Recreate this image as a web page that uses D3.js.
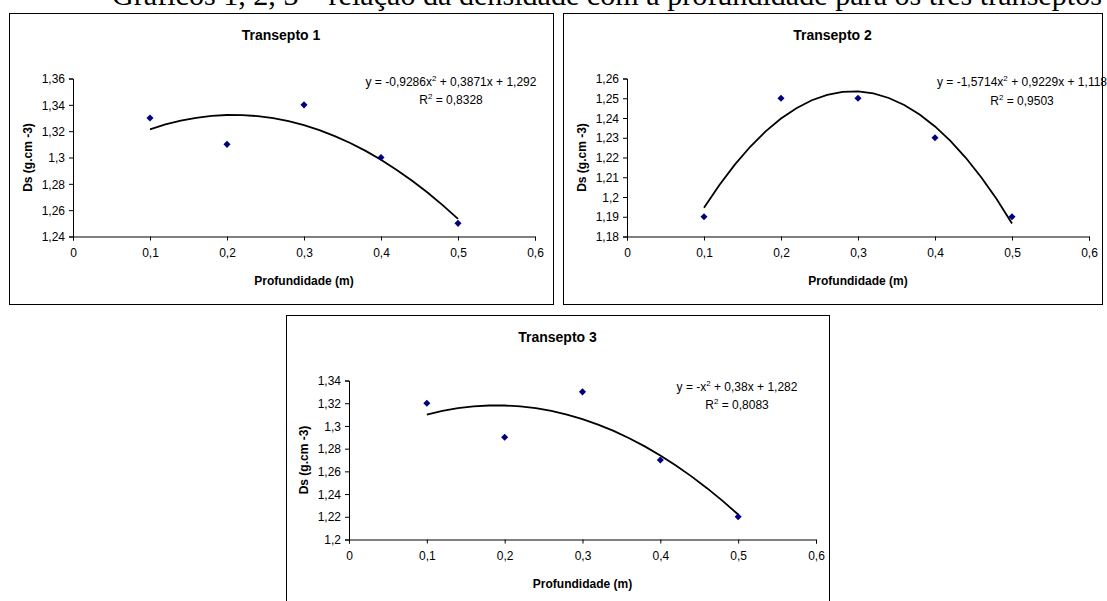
<!DOCTYPE html>
<html>
<head>
<meta charset="utf-8">
<script src="https://cdn.jsdelivr.net/npm/d3@7"></script>
<style>
  html, body { margin: 0; padding: 0; background: #fff; overflow: hidden; }
  svg { display: block; }
</style>
</head>
<body>
<svg id="chart" width="1107" height="601"></svg>
<script>
// data
const heading = "Gráficos 1, 2, 3 – relação da densidade com a profundidade para os três transeptos";
const titles = ["Transepto 1", "Transepto 2", "Transepto 3"];
const depth = [0.1, 0.2, 0.3, 0.4, 0.5];
const ds1 = [1.33, 1.31, 1.34, 1.30, 1.25];
const ds2 = [1.19, 1.25, 1.25, 1.23, 1.19];
const ds3 = [1.32, 1.29, 1.33, 1.27, 1.22];
// polynomial trendline coefficients (a, b, c) from the labels
const fit1 = [-0.9286, 0.3871, 1.292];
const fit2 = [-1.5714, 0.9229, 1.118];
const fit3 = [-1, 0.38, 1.282];
const eqLabels = [
  ["y = -0,9286x", " + 0,3871x + 1,292"],
  ["y = -1,5714x", " + 0,9229x + 1,118"],
  ["y = -x", " + 0,38x + 1,282"]
];
const r2Labels = ["0,8328", "0,9503", "0,8083"];
const xTicks = [0, 0.1, 0.2, 0.3, 0.4, 0.5, 0.6];
const yTicks1 = [1.24, 1.26, 1.28, 1.30, 1.32, 1.34, 1.36];
const yTicks2 = [1.18, 1.19, 1.20, 1.21, 1.22, 1.23, 1.24, 1.25, 1.26];
const yTicks3 = [1.20, 1.22, 1.24, 1.26, 1.28, 1.30, 1.32, 1.34];
const xTitle = "Profundidade (m)";
const yTitle = "Ds (g.cm -3)";

const series = [ds1, ds2, ds3];
const fits = [fit1, fit2, fit3];
const yTickSets = [yTicks1, yTicks2, yTicks3];

// layout of the three chart boxes
const layout = [
  { box: [9, 13, 553, 304], plot: [73, 535, 78.5, 236.5], eq: [451, 86, 104] },
  { box: [563, 13, 1102, 304], plot: [627, 1089, 78.5, 236.5], eq: [1022, 86, 105] },
  { box: [286, 315, 829, 640], plot: [349, 816, 380.5, 539.5], eq: [737, 391, 409] }
];

const font = "Arial, 'Liberation Sans', Helvetica, sans-serif";
const fmt = d => String(+d.toFixed(2)).replace(".", ",");

const svg = d3.select("#chart");

// page heading, cut at the top edge
const head = svg.append("text")
  .attr("x", 112)
  .attr("y", 5)
  .style("font-family", "'Liberation Serif', 'Times New Roman', serif")
  .style("font-size", "100px")
  .text(heading);
const headLen = head.node().getComputedTextLength();
head.style("font-size", (990 / headLen * 100) + "px");

layout.forEach((L, i) => {
  const [bx0, by0, bx1, by1] = L.box;
  const [px0, px1, py0, py1] = L.plot;
  const g = svg.append("g");

  g.append("rect")
    .attr("x", bx0 + 0.5).attr("y", by0 + 0.5)
    .attr("width", bx1 - bx0).attr("height", by1 - by0)
    .attr("fill", "#fff")
    .attr("stroke", "#000")
    .attr("stroke-width", 1);

  const ticks = yTickSets[i];
  const x = d3.scaleLinear().domain([0, 0.6]).range([px0, px1]);
  const y = d3.scaleLinear().domain([ticks[0], ticks[ticks.length - 1]]).range([py1, py0]);

  // axes
  const xAxis = g.append("g")
    .attr("transform", `translate(0,${py1})`)
    .call(d3.axisBottom(x).tickValues(xTicks).tickFormat(fmt).tickSize(4).tickPadding(8));
  const yAxis = g.append("g")
    .attr("transform", `translate(${px0},0)`)
    .call(d3.axisLeft(y).tickValues(ticks).tickFormat(fmt).tickSize(4).tickPadding(4));
  [xAxis, yAxis].forEach(a => {
    a.select(".domain").attr("stroke", "#000");
    a.selectAll(".tick line").attr("stroke", "#000");
    a.selectAll("text")
      .attr("fill", "#000")
      .style("font-family", font)
      .style("font-size", "12px");
  });
  yAxis.selectAll("text").attr("dy", "0.35em");

  // title
  g.append("text")
    .attr("x", (bx0 + bx1) / 2)
    .attr("y", by0 + 27)
    .attr("text-anchor", "middle")
    .style("font-family", font)
    .style("font-size", "14px")
    .style("font-weight", "bold")
    .text(titles[i]);

  // axis titles
  g.append("text")
    .attr("x", (px0 + px1) / 2)
    .attr("y", py1 + 48)
    .attr("text-anchor", "middle")
    .style("font-family", font)
    .style("font-size", "12px")
    .style("font-weight", "bold")
    .text(xTitle);
  g.append("text")
    .attr("transform", `translate(${px0 - 41},${(py0 + py1) / 2}) rotate(-90)`)
    .attr("text-anchor", "middle")
    .style("font-family", font)
    .style("font-size", "12px")
    .style("font-weight", "bold")
    .text(yTitle);

  // trendline
  const [a, b, c] = fits[i];
  const curveX = d3.range(0.1, 0.5001, 0.02);
  g.append("path")
    .datum(curveX)
    .attr("fill", "none")
    .attr("stroke", "#000")
    .attr("stroke-width", 1.8)
    .attr("d", d3.line().x(d => x(d)).y(d => y(a * d * d + b * d + c)));

  // points
  g.selectAll(".pt")
    .data(depth.map((d, k) => [d, series[i][k]]))
    .join("path")
    .attr("class", "pt")
    .attr("transform", d => `translate(${x(d[0])},${y(d[1])})`)
    .attr("fill", "#000080")
    .attr("d", d3.symbol(d3.symbolDiamond2, 32));

  // equation and R²
  const eq = g.append("text")
    .attr("x", L.eq[0]).attr("y", L.eq[1])
    .attr("text-anchor", "middle")
    .style("font-family", font)
    .style("font-size", "12px");
  eq.append("tspan").text(eqLabels[i][0]);
  eq.append("tspan").attr("dy", -5).style("font-size", "8px").text("2");
  eq.append("tspan").attr("dy", 5).text(eqLabels[i][1]);

  const r2 = g.append("text")
    .attr("x", L.eq[0]).attr("y", L.eq[2])
    .attr("text-anchor", "middle")
    .style("font-family", font)
    .style("font-size", "12px");
  r2.append("tspan").text("R");
  r2.append("tspan").attr("dy", -5).style("font-size", "8px").text("2");
  r2.append("tspan").attr("dy", 5).text(" = " + r2Labels[i]);
});
</script>
</body>
</html>
